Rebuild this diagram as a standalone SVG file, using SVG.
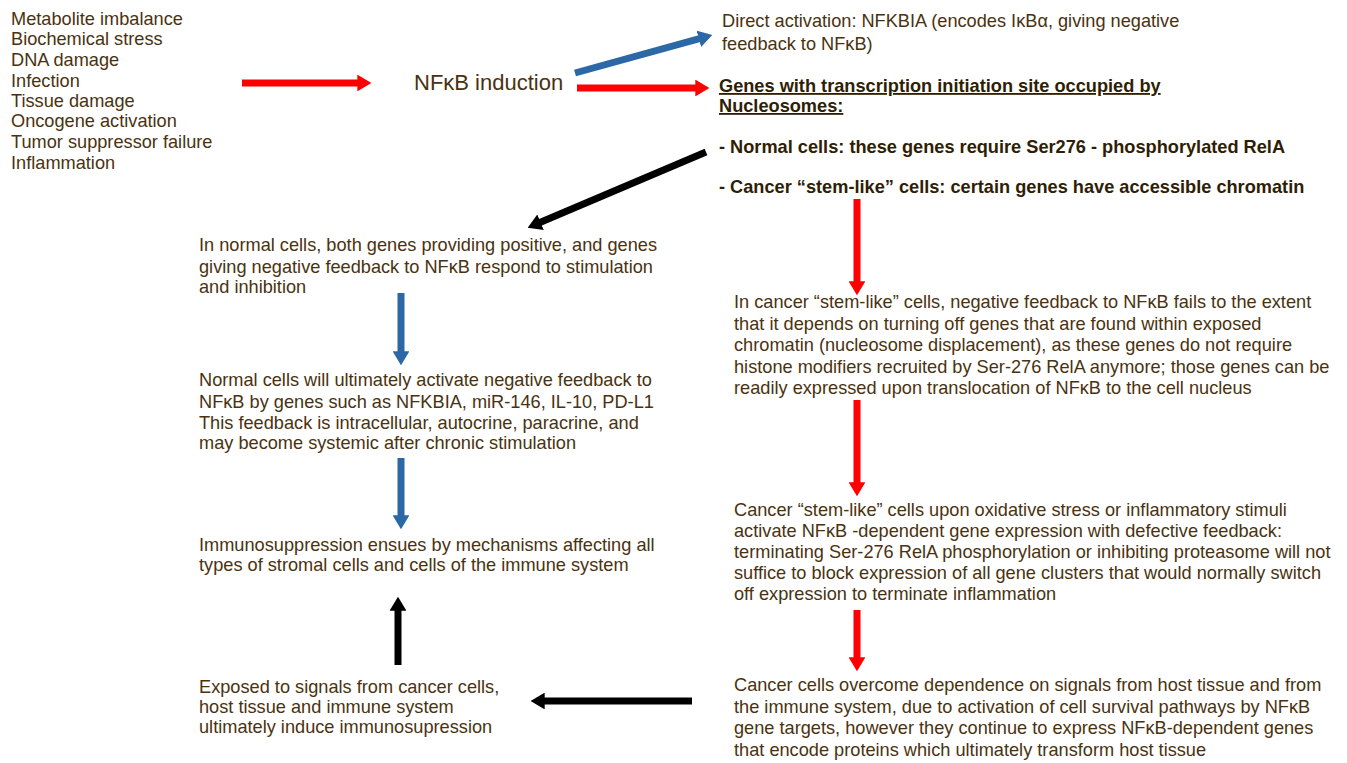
<svg xmlns="http://www.w3.org/2000/svg" width="1347" height="763" viewBox="0 0 1347 763">
<style>
text{font-family:"Liberation Sans",Arial,sans-serif;font-size:18.2px;fill:#4a3210}
.b{font-weight:bold;fill:#2e1e05}
.u{text-decoration:underline}
.big{font-size:22px}
.red{stroke:#ff0000;fill:none;stroke-width:7}
.blue{stroke:#2c68a5;fill:none;stroke-width:7}
.blk{stroke:#000;fill:none;stroke-width:7}
</style>
<defs>
<marker id="hr" viewBox="0 0 10 12" refX="0.5" refY="6" markerWidth="2" markerHeight="2.4" orient="auto"><path d="M0,0L10,6L0,12z" fill="#ff0000"/></marker>
<marker id="hb" viewBox="0 0 10 12" refX="0.5" refY="6" markerWidth="2" markerHeight="2.4" orient="auto"><path d="M0,0L10,6L0,12z" fill="#2c68a5"/></marker>
<marker id="hk" viewBox="0 0 10 12" refX="0.5" refY="6" markerWidth="2" markerHeight="2.4" orient="auto"><path d="M0,0L10,6L0,12z" fill="#000"/></marker>
</defs>
<rect width="1347" height="763" fill="#fff"/>
<g id="connectors">
<line class="red" x1="242" y1="83" x2="358" y2="83" marker-end="url(#hr)"/>
<line class="blue" x1="575" y1="73" x2="699.5" y2="38.6" marker-end="url(#hb)"/>
<line class="red" x1="577" y1="88" x2="696" y2="88" marker-end="url(#hr)"/>
<line class="blk" x1="706" y1="152" x2="539.9" y2="222.5" marker-end="url(#hk)"/>
<line class="blue" x1="401" y1="293" x2="401" y2="352" marker-end="url(#hb)"/>
<line class="blue" x1="401" y1="458" x2="401" y2="516" marker-end="url(#hb)"/>
<line class="red" x1="857" y1="199" x2="857" y2="282" marker-end="url(#hr)"/>
<line class="red" x1="857" y1="400" x2="857" y2="483" marker-end="url(#hr)"/>
<line class="red" x1="857" y1="610" x2="857" y2="658" marker-end="url(#hr)"/>
<line class="blk" x1="398" y1="665" x2="398" y2="610" marker-end="url(#hk)"/>
<line class="blk" x1="692" y1="701" x2="544" y2="701" marker-end="url(#hk)"/>
</g>
<g id="stressors">
<text x="11" y="25">Metabolite imbalance</text>
<text x="11" y="45">Biochemical stress</text>
<text x="11" y="66">DNA damage</text>
<text x="11" y="87">Infection</text>
<text x="11" y="107">Tissue damage</text>
<text x="11" y="127">Oncogene activation</text>
<text x="11" y="148">Tumor suppressor failure</text>
<text x="11" y="169">Inflammation</text>
</g>
<g id="nfkb">
<text class="big" x="414" y="90">NFκB induction</text>
</g>
<g id="direct">
<text x="722" y="27">Direct activation: NFKBIA (encodes IκBα, giving negative</text>
<text x="722" y="50">feedback to NFκB)</text>
</g>
<g id="nucleosome">
<text class="b u" x="719" y="92">Genes with transcription initiation site occupied by</text>
<text class="b u" x="719" y="112">Nucleosomes:</text>
<text class="b" x="719" y="153">- Normal cells: these genes require Ser276 - phosphorylated RelA</text>
<text class="b" x="719" y="193">- Cancer “stem-like” cells: certain genes have accessible chromatin</text>
</g>
<g id="normal1">
<text x="199" y="251">In normal cells, both genes providing positive, and genes</text>
<text x="199" y="273">giving negative feedback to NFκB respond to stimulation</text>
<text x="199" y="293">and inhibition</text>
</g>
<g id="normal2">
<text x="199" y="386">Normal cells will ultimately activate negative feedback to</text>
<text x="199" y="408">NFκB by genes such as NFKBIA, miR-146, IL-10, PD-L1</text>
<text x="199" y="429">This feedback is intracellular, autocrine, paracrine, and</text>
<text x="199" y="449">may become systemic after chronic stimulation</text>
</g>
<g id="immuno">
<text x="199" y="551">Immunosuppression ensues by mechanisms affecting all</text>
<text x="199" y="571">types of stromal cells and cells of the immune system</text>
</g>
<g id="exposed">
<text x="199" y="693">Exposed to signals from cancer cells,</text>
<text x="199" y="713">host tissue and immune system</text>
<text x="199" y="733">ultimately induce immunosupression</text>
</g>
<g id="cancer1">
<text x="734" y="308">In cancer “stem-like” cells, negative feedback to NFκB fails to the extent</text>
<text x="734" y="330">that it depends on turning off genes that are found within exposed</text>
<text x="734" y="351">chromatin (nucleosome displacement), as these genes do not require</text>
<text x="734" y="373">histone modifiers recruited by Ser-276 RelA anymore; those genes can be</text>
<text x="734" y="394">readily expressed upon translocation of NFκB to the cell nucleus</text>
</g>
<g id="cancer2">
<text x="734" y="516">Cancer “stem-like” cells upon oxidative stress or inflammatory stimuli</text>
<text x="734" y="537">activate NFκB -dependent gene expression with defective feedback:</text>
<text x="734" y="558">terminating Ser-276 RelA phosphorylation or inhibiting proteasome will not</text>
<text x="734" y="579">suffice to block expression of all gene clusters that would normally switch</text>
<text x="734" y="600">off expression to terminate inflammation</text>
</g>
<g id="cancer3">
<text x="734" y="691">Cancer cells overcome dependence on signals from host tissue and from</text>
<text x="734" y="713">the immune system, due to activation of cell survival pathways by NFκB</text>
<text x="734" y="734">gene targets, however they continue to express NFκB-dependent genes</text>
<text x="734" y="756">that encode proteins which ultimately transform host tissue</text>
</g>
</svg>
